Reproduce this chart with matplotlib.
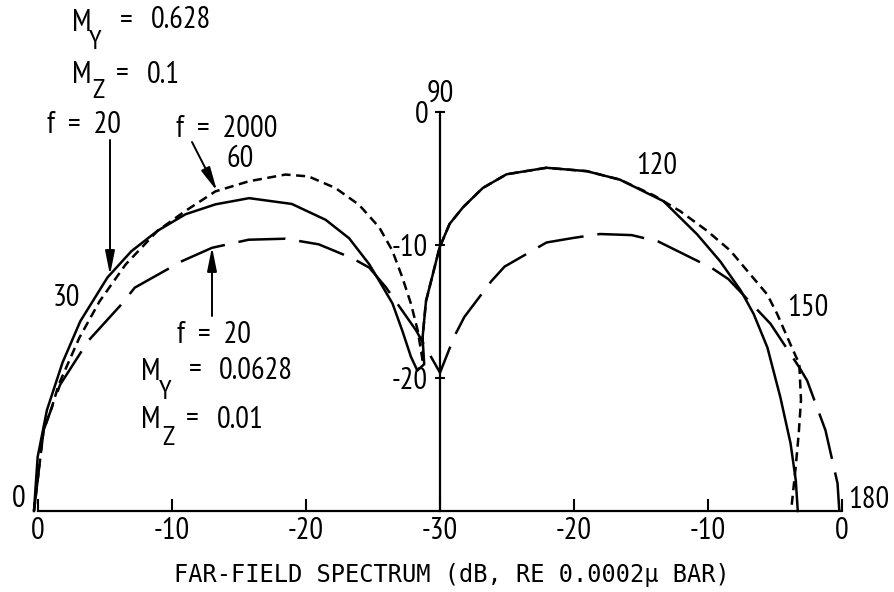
import numpy as np
import matplotlib
matplotlib.use("Agg")
import matplotlib.pyplot as plt

plt.rcParams['font.family'] = ['PT Sans Narrow', 'IBM Plex Sans Condensed', 'DejaVu Sans']
plt.rcParams['lines.scale_dashes'] = False

# ---------------- data (angle in degrees, level in dB re reference) ----------
REF_LEVEL = -30.0          # level at the centre of the polar diagram

# f = 20, M_Y = 0.628, M_Z = 0.1  (solid)
theta_a = [0, 7.7, 14.5, 21.6, 28.0, 35.3, 40.3, 45.0, 49.6, 54.0, 58.8, 64.4,
           68.7, 71.7, 74.1, 75.3, 77.2, 78.3, 79.4, 80.9, 83.9, 84.3, 86.2,
           89.9, 91.9, 94.3, 97.5, 101.1, 107.1, 113.2, 118.3, 125.6, 132.7,
           138.1, 143.6, 147.7, 153.3, 161.4, 169.0, 175.0, 180]
level_a = [0.3, 0.3, 0.3, 0.3, 0.4, 0.4, 0.2, -0.2, -0.7, -1.5, -2.5, -4.4,
           -6.5, -8.4, -10.7, -12.1, -14.0, -16.2, -18.2, -19.3, -18.9, -16.9, -14.2,
           -10.2, -8.4, -7.1, -5.5, -4.2, -3.0, -2.2, -1.7, -1.35, -1.7,
           -1.9, -2.1, -2.3, -2.65, -3.2, -3.35, -3.35, -3.3]

# f = 2000, M_Y = 0.628, M_Z = 0.1  (short dashes)
theta_b = [0, 11.6, 15.1, 18.5, 25.8, 31.8, 38.3, 45.0, 49.8, 55.1, 60.1, 65.5,
           68.7, 72.2, 75.3, 78.0, 79.7, 80.9, 82.1, 83.0, 83.5, 84.3, 86.2,
           89.9, 91.9, 94.3, 97.5, 101.1, 107.1, 113.2, 118.3, 124.0, 128.5,
           133.4, 137.9, 142.5, 146.3, 149.5, 154.4, 157.6, 162.8, 167.7, 172.9, 180]
level_b = [0.3, 0.2, 0.0, 0.0, -0.1, -0.1, -0.1, -0.2, -0.5, -0.7, -1.4, -2.2,
           -3.0, -4.5, -6.2, -8.2, -10.1, -12.2, -14.3, -16.3, -18.8, -16.9, -14.2,
           -10.2, -8.4, -7.1, -5.5, -4.2, -3.0, -2.2, -1.7, -1.4, -1.2,
           -1.0, -0.8, -0.8, -0.65, -0.8, -1.0, -1.0, -1.8, -2.6, -3.25, -3.8]

# f = 20, M_Y = 0.0628, M_Z = 0.01  (long dashes)
theta_c = [0, 11.6, 18.5, 26.0, 33.2, 36.4, 44.3, 49.3, 55.0, 60.6, 65.7, 71.0,
           73.9, 76.5, 82.5, 90.0, 94.7, 97.1, 102.5, 104.7, 111.5, 115.8, 119.8,
           124.6, 128.8, 138.0, 141.0, 150.3, 158.0, 160.3, 168.1, 176.0, 180]
level_c = [0.3, 0.2, -0.1, -0.8, -1.6, -1.7, -3.1, -3.9, -5.1, -6.5, -8.0, -9.9,
           -10.95, -12.7, -16.3, -19.6, -16.8, -15.3, -12.3, -11.0, -8.3, -7.2, -6.0,
           -4.8, -4.0, -2.7, -2.3, -1.6, -1.1, -0.9, -0.6, -0.26, -0.2]

x_ticks = [-30, -20, -10, 0, 10, 20, 30]
x_tick_labels = ["0", "-10", "-20", "-30", "-20", "-10", "0"]
y_ticks = [10, 20, 30]
y_tick_labels = ["-20", "-10", "0"]
angle_marks = [0, 30, 60, 90, 120, 150, 180]

# ---------------- figure ------------------------------------------------------
W, H = 895, 592
fig = plt.figure(figsize=(W / 100, H / 100), dpi=100)
ax = fig.add_axes([0, 0, 1, 1])
CX, CY, SX, SY = 440.0, 511.0, 13.4, 13.3
ax.set_xlim(-CX / SX, (W - CX) / SX)
ax.set_ylim(-(H - CY) / SY, CY / SY)


def P(px, py):
    """pixel position -> data position (for placing annotations only)"""
    return ((px - CX) / SX, (CY - py) / SY)


def xy(theta, level):
    t = np.radians(np.asarray(theta, float))
    r = np.asarray(level, float) - REF_LEVEL
    return -r * np.cos(t), r * np.sin(t)


LW = 1.8
xa, ya = xy(theta_a, level_a)
xb, yb = xy(theta_b, level_b)
xc, yc = xy(theta_c, level_c)
ax.plot(xc, yc, color='k', lw=LW, ls=(0, (34, 10)), solid_capstyle='butt',
        solid_joinstyle='round')
ax.plot(xb, yb, color='k', lw=LW, ls=(0, (6.5, 4)), solid_capstyle='butt')
ax.plot(xa, ya, color='k', lw=LW, ls='-', solid_joinstyle='round')

# axes (baseline + vertical axis at the centre)
for s in ['top', 'right']:
    ax.spines[s].set_visible(False)
ax.spines['bottom'].set_position(('data', 0))
ax.spines['left'].set_position(('data', 0))
ax.spines['bottom'].set_bounds(-30, 30)
ax.spines['left'].set_bounds(0, 30)
ax.spines['bottom'].set_linewidth(1.6)
ax.spines['left'].set_linewidth(1.6)
ax.set_xticks(x_ticks)
ax.set_xticklabels(x_tick_labels)
ax.set_yticks(y_ticks)
ax.set_yticklabels(y_tick_labels)
ax.tick_params(axis='x', direction='in', length=8.5, width=1.5, pad=4.0,
               labelsize=22)
ax.tick_params(axis='y', direction='inout', length=7, width=1.5, pad=5.0,
               labelsize=22)

# angle labels
angle_pos = {0: (19, 499), 30: (66, 298), 60: (240, 159), 90: (440, 94),
             120: (657, 166), 150: (808, 308), 180: (869, 500)}
for a in angle_marks:
    ax.text(*P(*angle_pos[a]), str(a), ha='center', va='center', fontsize=22)

FS = 22
# upper block
ax.text(*P(72, 31), "M", ha='left', va='baseline', fontsize=FS)
ax.text(*P(89, 49), "Y", ha='left', va='baseline', fontsize=FS - 2)
ax.text(*P(120, 29), "=", ha='left', va='baseline', fontsize=FS)
ax.text(*P(151, 28), "0.628", ha='left', va='baseline', fontsize=FS)
ax.text(*P(72, 83), "M", ha='left', va='baseline', fontsize=FS)
ax.text(*P(92, 98), "Z", ha='left', va='baseline', fontsize=FS - 2)
ax.text(*P(116, 82), "=", ha='left', va='baseline', fontsize=FS)
ax.text(*P(147, 83), "0.1", ha='left', va='baseline', fontsize=FS)
ax.text(*P(47, 133), "f  =  20", ha='left', va='baseline', fontsize=FS)
ax.text(*P(176, 137), "f  =  2000", ha='left', va='baseline', fontsize=FS)

# lower block
ax.text(*P(177, 343), "f  =  20", ha='left', va='baseline', fontsize=FS)
ax.text(*P(141, 380), "M", ha='left', va='baseline', fontsize=FS)
ax.text(*P(159, 399), "Y", ha='left', va='baseline', fontsize=FS - 2)
ax.text(*P(189, 378), "=", ha='left', va='baseline', fontsize=FS)
ax.text(*P(219, 379), "0.0628", ha='left', va='baseline', fontsize=FS)
ax.text(*P(141, 428), "M", ha='left', va='baseline', fontsize=FS)
ax.text(*P(162, 445), "Z", ha='left', va='baseline', fontsize=FS - 2)
ax.text(*P(186, 427), "=", ha='left', va='baseline', fontsize=FS)
ax.text(*P(217, 428), "0.01", ha='left', va='baseline', fontsize=FS)

arrow = dict(arrowstyle='-|>,head_length=0.9,head_width=0.18', color='k',
             lw=1.4, shrinkA=0, shrinkB=0, mutation_scale=16)
ax.annotate('', xy=P(110, 275), xytext=P(110, 140), arrowprops=arrow)
ax.annotate('', xy=P(217, 191), xytext=P(192, 142), arrowprops=arrow)
ax.annotate('', xy=P(212, 247), xytext=P(212, 316), arrowprops=arrow)

ax.text(*P(452, 575), "FAR-FIELD SPECTRUM (dB, RE 0.0002\u00b5 BAR)",
        ha='center', va='center', fontsize=17, family=['DejaVu Sans Mono'])

fig.savefig("out.png", dpi=100)
